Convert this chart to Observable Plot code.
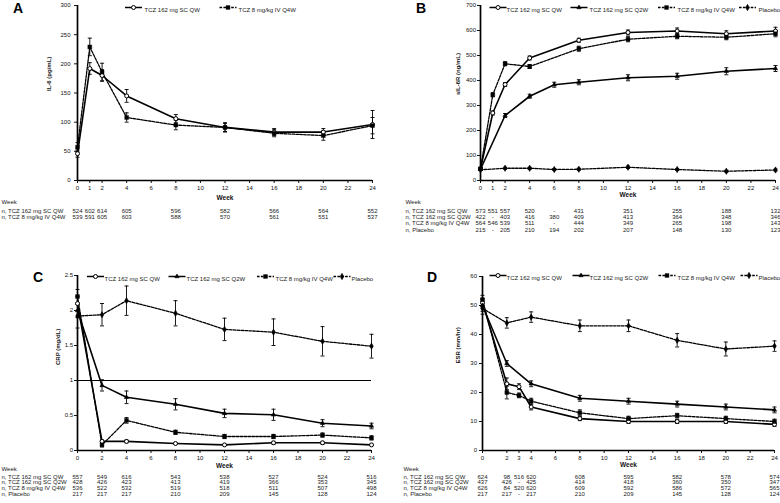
<!DOCTYPE html>
<html><head><meta charset="utf-8">
<script src="https://cdn.jsdelivr.net/npm/d3@7"></script>
<script src="https://cdn.jsdelivr.net/npm/@observablehq/plot@0.6"></script>
<style>
body{margin:0;background:#fff;font-family:"Liberation Sans",Arial,sans-serif;}
#wrap{position:relative;width:780px;height:503px;overflow:hidden;background:#fff}
.panel{position:absolute}
.letter{position:absolute;font-weight:bold;font-size:14px;color:#000;line-height:14px}
</style></head><body><div id="wrap"></div>
<script>
// ---------- DATA ----------
const seriesNames = {QW:"TCZ 162 mg SC QW", Q2W:"TCZ 162 mg SC Q2W", IV:"TCZ 8 mg/kg IV Q4W", PBO:"Placebo"};
const rowLabels = {QW:"n, TCZ 162 mg SC QW", Q2W:"n, TCZ 162 mg SC Q2W", IV:"n, TCZ 8 mg/kg IV Q4W", PBO:"n, Placebo"};

// Panel A: IL-6 (pg/mL)
const weeksA = [0,1,2,4,8,12,16,20,24];
const il6QW = [46,192,180,145,106,91,83,83,96];
const il6QWErr = [6,10,10,11,7,7,6,6,24];
const il6IV = [57,229,186,108,95,91,81,77,94];
const il6IVErr = [8,15,15,8,8,8,6,8,14];
const nA_QW = ["524","602","614","605","596","582","566","564","552"];
const nA_IV = ["539","591","605","603","588","570","561","551","537"];
const xticksA = [0,1,2,4,6,8,10,12,14,16,18,20,22,24];
const yticksA = [0,50,100,150,200,250,300];

// Panel B: sIL-6R (ng/mL)
const weeksB = [0,1,2,4,6,8,12,16,20,24];
const silQW = [47,270,384,490,null,561,592,598,587,598];
const silQWErr = [5,8,8,8,null,8,10,12,12,15];
const silQ2W = [45,null,260,337,383,393,411,417,437,448];
const silQ2WErr = [5,null,8,8,10,10,12,12,14,12];
const silIV = [47,343,467,456,null,527,565,577,573,587];
const silIVErr = [5,8,8,8,null,10,10,10,10,12];
const silPBO = [43,null,49,49,44,45,53,44,37,42];
const silPBOErr = [3,null,4,4,4,4,5,4,4,4];
const nB_QW = ["573","551","557","520","-","431","351","255","188","132"];
const nB_Q2W = ["422","-","403","416","380","409","413","364","348","346"];
const nB_IV = ["564","546","539","511","-","444","349","265","198","143"];
const nB_PBO = ["215","-","205","210","194","202","207","148","130","123"];
const xticksB = [0,1,2,4,6,8,10,12,14,16,18,20,22,24];
const yticksB = [0,100,200,300,400,500,600,700];

// Panel C: CRP (mg/dL)
const weeksC = [0,2,4,8,12,16,20,24];
const crpQW = [2.1,0.13,0.13,0.10,0.08,0.11,0.11,0.08];
const crpQWErr = [0.1,0.02,0.02,0.01,0.01,0.02,0.02,0.01];
const crpQ2W = [2.0,0.93,0.76,0.66,0.53,0.51,0.39,0.35];
const crpQ2WErr = [0.1,0.08,0.09,0.08,0.06,0.08,0.05,0.04];
const crpIV = [2.2,0.08,0.43,0.26,0.20,0.20,0.22,0.18];
const crpIVErr = [0.1,0.03,0.04,0.03,0.03,0.03,0.03,0.03];
const crpPBO = [1.92,1.94,2.14,1.96,1.73,1.69,1.56,1.49];
const crpPBOErr = [0.17,0.16,0.21,0.18,0.16,0.19,0.21,0.17];
const nC_QW = ["557","549","616","543","538","527","524","516"];
const nC_Q2W = ["428","426","423","413","419","366","353","345"];
const nC_IV = ["536","522","532","519","518","511","507","498"];
const nC_PBO = ["217","217","217","210","209","145","128","124"];
const xticksC = [0,2,4,6,8,10,12,14,16,18,20,22,24];
const yticksC = [0,0.5,1,1.5,2,2.5];
const crpRef = [1];

// Panel D: ESR (mm/hr)
const weeksD = [0,2,3,4,8,12,16,20,24];
const esrQW = [51,23,22,15,11,10,10,10,9];
const esrQWErr = [1.5,2,1,1,0.7,0.7,0.7,0.7,0.7];
const esrQ2W = [50,30,null,23,18,17,16,15,14];
const esrQ2WErr = [2,1,null,1,1,1,1,1,1];
const esrIV = [52,20,19,17,13,11,12,11,10];
const esrIVErr = [1.5,2.2,0.8,1,1,0.8,0.8,0.8,0.8];
const esrPBO = [49,44,null,46,43,43,38,35,36];
const esrPBOErr = [2,1.8,null,1.8,2,2,2.3,2.4,1.8];
const nD_QW = ["624","98","516","620","608","595","582","578","574"];
const nD_Q2W = ["437","426","-","425","414","418","360","350","347"];
const nD_IV = ["626","84","520","620","609","592","586","572","565"];
const nD_PBO = ["217","217","-","217","210","209","145","128","124"];
const xticksD = [0,2,3,4,6,8,10,12,14,16,18,20,22,24];
const yticksD = [0,10,20,30,40,50,60];

// ---------- STYLE ----------
const STYLE = {
  QW:  {symbol:"circle",   fill:"white", dash:undefined, r:2.0, sw:1},
  Q2W: {symbol:"triangle", fill:"black", dash:undefined, r:1.6, sw:0.6},
  IV:  {symbol:"square",   fill:"black", dash:"2.6,1.3", r:2.2, sw:0.4},
  PBO: {symbol:"diamond",  fill:"black", dash:"2.6,1.3", r:1.9, sw:0.6}
};
const capSym = {draw(ctx){ctx.moveTo(-2,0);ctx.lineTo(2,0);}};
const segSym = {draw(ctx){ctx.moveTo(-8.5,0);ctx.lineTo(8.5,0);}};
const FONT = "Liberation Sans, Arial, sans-serif";

function rowsOf(weeks, vals, errs){
  return weeks.map((w,i)=>({week:w, v:vals[i], e:errs[i]}))
    .filter(d=>d.v!=null)
    .map(d=>({...d, lo:d.v-d.e, hi:d.v+d.e}));
}

function makePanel(c){
  const fb = c.height - c.mb; // frame bottom
  const marks = [];
  marks.push(Plot.ruleX([0], {y1:0, y2:c.ymax, stroke:"black", strokeWidth:1.7}));
  marks.push(Plot.ruleY([0], {x1:0, x2:24, stroke:"black", strokeWidth:1.7}));
  if (c.ref) marks.push(Plot.ruleY(c.ref, {x1:0, x2:24, stroke:"black", strokeWidth:1.2}));
  marks.push(Plot.axisY({ticks:c.yticks, tickSize:3, tickPadding:c.tickPad, fontSize:6, label:null, tickFormat:d=>String(d)}));
  marks.push(Plot.axisX({ticks:c.xticks, tickSize:3, tickPadding:2, fontSize:6, label:null, tickFormat:d=>String(d)}));
  for (const s of c.series){
    const st = STYLE[s.key];
    const rows = rowsOf(s.weeks, s.vals, s.errs);
    marks.push(Plot.ruleX(rows, {x:"week", y1:"lo", y2:"hi", stroke:"black", strokeWidth:0.9}));
    marks.push(Plot.dot(rows, {x:"week", y:"hi", symbol:capSym, fill:"none", stroke:"black", strokeWidth:0.9}));
    marks.push(Plot.dot(rows, {x:"week", y:"lo", symbol:capSym, fill:"none", stroke:"black", strokeWidth:0.9}));
    marks.push(Plot.line(rows, {x:"week", y:"v", stroke:"black", strokeWidth: st.dash ? 1.3 : 1.6, strokeDasharray: st.dash}));
  }
  for (const s of c.series){
    const st = STYLE[s.key];
    const rows = rowsOf(s.weeks, s.vals, s.errs);
    marks.push(Plot.dot(rows, {x:"week", y:"v", symbol:st.symbol, r:st.r, fill:st.fill, stroke:"black", strokeWidth:st.sw}));
  }
  for (const L of c.legend){
    const st = STYLE[L.key];
    const dy = c.legendY - c.mt;
    marks.push(Plot.dot([0], {frameAnchor:"top-left", dx:L.cx - c.ml, dy, symbol:segSym, fill:"none", stroke:"black", strokeWidth: st.dash?1.3:1.5, strokeDasharray: st.dash}));
    marks.push(Plot.dot([0], {frameAnchor:"top-left", dx:L.cx - c.ml, dy, symbol:st.symbol, r:st.r, fill:st.fill, stroke:"black", strokeWidth:st.sw}));
    marks.push(Plot.text([seriesNames[L.key]], {frameAnchor:"top-left", dx:L.tx - c.ml, dy, text:d=>d, textAnchor:"start", fontSize:6, fill:"#222"}));
  }
  marks.push(Plot.text(["Week"], {frameAnchor:"bottom", dy:c.weekTitleY - fb, text:d=>d, fontSize:6.5, fontWeight:"bold", fill:"#111"}));
  marks.push(Plot.text([c.ylabel], {frameAnchor:"left", dx:c.ylabelX - c.ml, dy:c.ylabelDy, text:d=>d, rotate:-90, fontSize:6, fontWeight:"bold", fill:"#111"}));
  marks.push(Plot.text(["Week"], {frameAnchor:"bottom-left", dx:c.tableX - c.ml, dy:c.tableHeadY - fb, text:d=>d, textAnchor:"start", fontSize:6, fill:"#222"}));
  c.table.rows.forEach((r, j) => {
    const y = c.tableRow0 + j*c.tableStep;
    marks.push(Plot.text([rowLabels[r.key]], {frameAnchor:"bottom-left", dx:c.tableX - c.ml, dy:y - fb, text:d=>d, textAnchor:"start", fontSize:6, fill:"#222"}));
    const cells = c.table.weeks.map((w,i)=>({week:w, t:r.vals[i]}));
    marks.push(Plot.text(cells, {x:"week", frameAnchor:"bottom", dy:y - fb, text:"t", fontSize:6, fill:"#222"}));
  });
  return Plot.plot({
    width:c.width, height:c.height,
    marginLeft:c.ml, marginRight:c.mr, marginTop:c.mt, marginBottom:c.mb,
    x:{domain:[0,24], axis:null},
    y:{domain:[0,c.ymax], axis:null},
    style:{fontFamily:FONT, background:"transparent", overflow:"visible", color:"#111"},
    marks
  });
}

const panels = [
  {pos:[0,0], letter:"A", letterPos:[13,1], cfg:{
    width:390, height:250, ml:77, mr:18, mt:5, mb:70, ymax:300, yticks:yticksA, xticks:xticksA, tickPad:4,
    ylabel:"IL-6 (pg/mL)", ylabelX:49, ylabelDy:-2,
    series:[{key:"QW", weeks:weeksA, vals:il6QW, errs:il6QWErr},{key:"IV", weeks:weeksA, vals:il6IV, errs:il6IVErr}],
    legend:[{key:"QW", cx:133, tx:144},{key:"IV", cx:227.5, tx:238}], legendY:7,
    weekTitleY:199, tableX:1, tableHeadY:203, tableRow0:212.5, tableStep:5.8,
    table:{weeks:weeksA, rows:[{key:"QW", vals:nA_QW},{key:"IV", vals:nA_IV}]}
  }},
  {pos:[390,0], letter:"B", letterPos:[416,1], cfg:{
    width:390, height:250, ml:90, mr:5, mt:5, mb:70, ymax:700, yticks:yticksB, xticks:xticksB, tickPad:1.5,
    ylabel:"sIL-6R (ng/mL)", ylabelX:68, ylabelDy:2,
    series:[{key:"QW", weeks:weeksB, vals:silQW, errs:silQWErr},{key:"Q2W", weeks:weeksB, vals:silQ2W, errs:silQ2WErr},
            {key:"IV", weeks:weeksB, vals:silIV, errs:silIVErr},{key:"PBO", weeks:weeksB, vals:silPBO, errs:silPBOErr}],
    legend:[{key:"QW", cx:107.5, tx:116},{key:"Q2W", cx:188.5, tx:199},{key:"IV", cx:276, tx:287},{key:"PBO", cx:357, tx:368}], legendY:7,
    weekTitleY:196, tableX:15, tableHeadY:203, tableRow0:212.5, tableStep:6.2,
    table:{weeks:weeksB, rows:[{key:"QW", vals:nB_QW},{key:"Q2W", vals:nB_Q2W},{key:"IV", vals:nB_IV},{key:"PBO", vals:nB_PBO}]}
  }},
  {pos:[0,250], letter:"C", letterPos:[33,270], cfg:{
    width:390, height:253, ml:77, mr:19, mt:25, mb:53, ymax:2.5, yticks:yticksC, xticks:xticksC, tickPad:1.5, ref:crpRef,
    ylabel:"CRP (mg/dL)", ylabelX:58, ylabelDy:2,
    series:[{key:"QW", weeks:weeksC, vals:crpQW, errs:crpQWErr},{key:"Q2W", weeks:weeksC, vals:crpQ2W, errs:crpQ2WErr},
            {key:"IV", weeks:weeksC, vals:crpIV, errs:crpIVErr},{key:"PBO", weeks:weeksC, vals:crpPBO, errs:crpPBOErr}],
    legend:[{key:"QW", cx:95, tx:104},{key:"Q2W", cx:176.5, tx:186},{key:"IV", cx:265, tx:275},{key:"PBO", cx:341.5, tx:351}], legendY:26,
    weekTitleY:217, tableX:1, tableHeadY:220, tableRow0:228, tableStep:5.8,
    table:{weeks:weeksC, rows:[{key:"QW", vals:nC_QW},{key:"Q2W", vals:nC_Q2W},{key:"IV", vals:nC_IV},{key:"PBO", vals:nC_PBO}]}
  }},
  {pos:[390,250], letter:"D", letterPos:[427,270], cfg:{
    width:390, height:253, ml:92, mr:6, mt:26, mb:53, ymax:60, yticks:yticksD, xticks:xticksD, tickPad:2.5,
    ylabel:"ESR (mm/hr)", ylabelX:68, ylabelDy:0,
    series:[{key:"QW", weeks:weeksD, vals:esrQW, errs:esrQWErr},{key:"Q2W", weeks:weeksD, vals:esrQ2W, errs:esrQ2WErr},
            {key:"IV", weeks:weeksD, vals:esrIV, errs:esrIVErr},{key:"PBO", weeks:weeksD, vals:esrPBO, errs:esrPBOErr}],
    legend:[{key:"QW", cx:107.5, tx:116},{key:"Q2W", cx:190.5, tx:199},{key:"IV", cx:276.5, tx:287},{key:"PBO", cx:358.5, tx:368}], legendY:25,
    weekTitleY:216.5, tableX:13, tableHeadY:220, tableRow0:228, tableStep:5.8,
    table:{weeks:weeksD, rows:[{key:"QW", vals:nD_QW},{key:"Q2W", vals:nD_Q2W},{key:"IV", vals:nD_IV},{key:"PBO", vals:nD_PBO}]}
  }}
];

const wrap = document.getElementById("wrap");
for (const p of panels){
  const div = document.createElement("div");
  div.className = "panel";
  div.style.left = p.pos[0] + "px";
  div.style.top = p.pos[1] + "px";
  div.appendChild(makePanel(p.cfg));
  wrap.appendChild(div);
  const L = document.createElement("div");
  L.className = "letter";
  L.textContent = p.letter;
  L.style.left = p.letterPos[0] + "px";
  L.style.top = p.letterPos[1] + "px";
  wrap.appendChild(L);
}
</script>
</body></html>
